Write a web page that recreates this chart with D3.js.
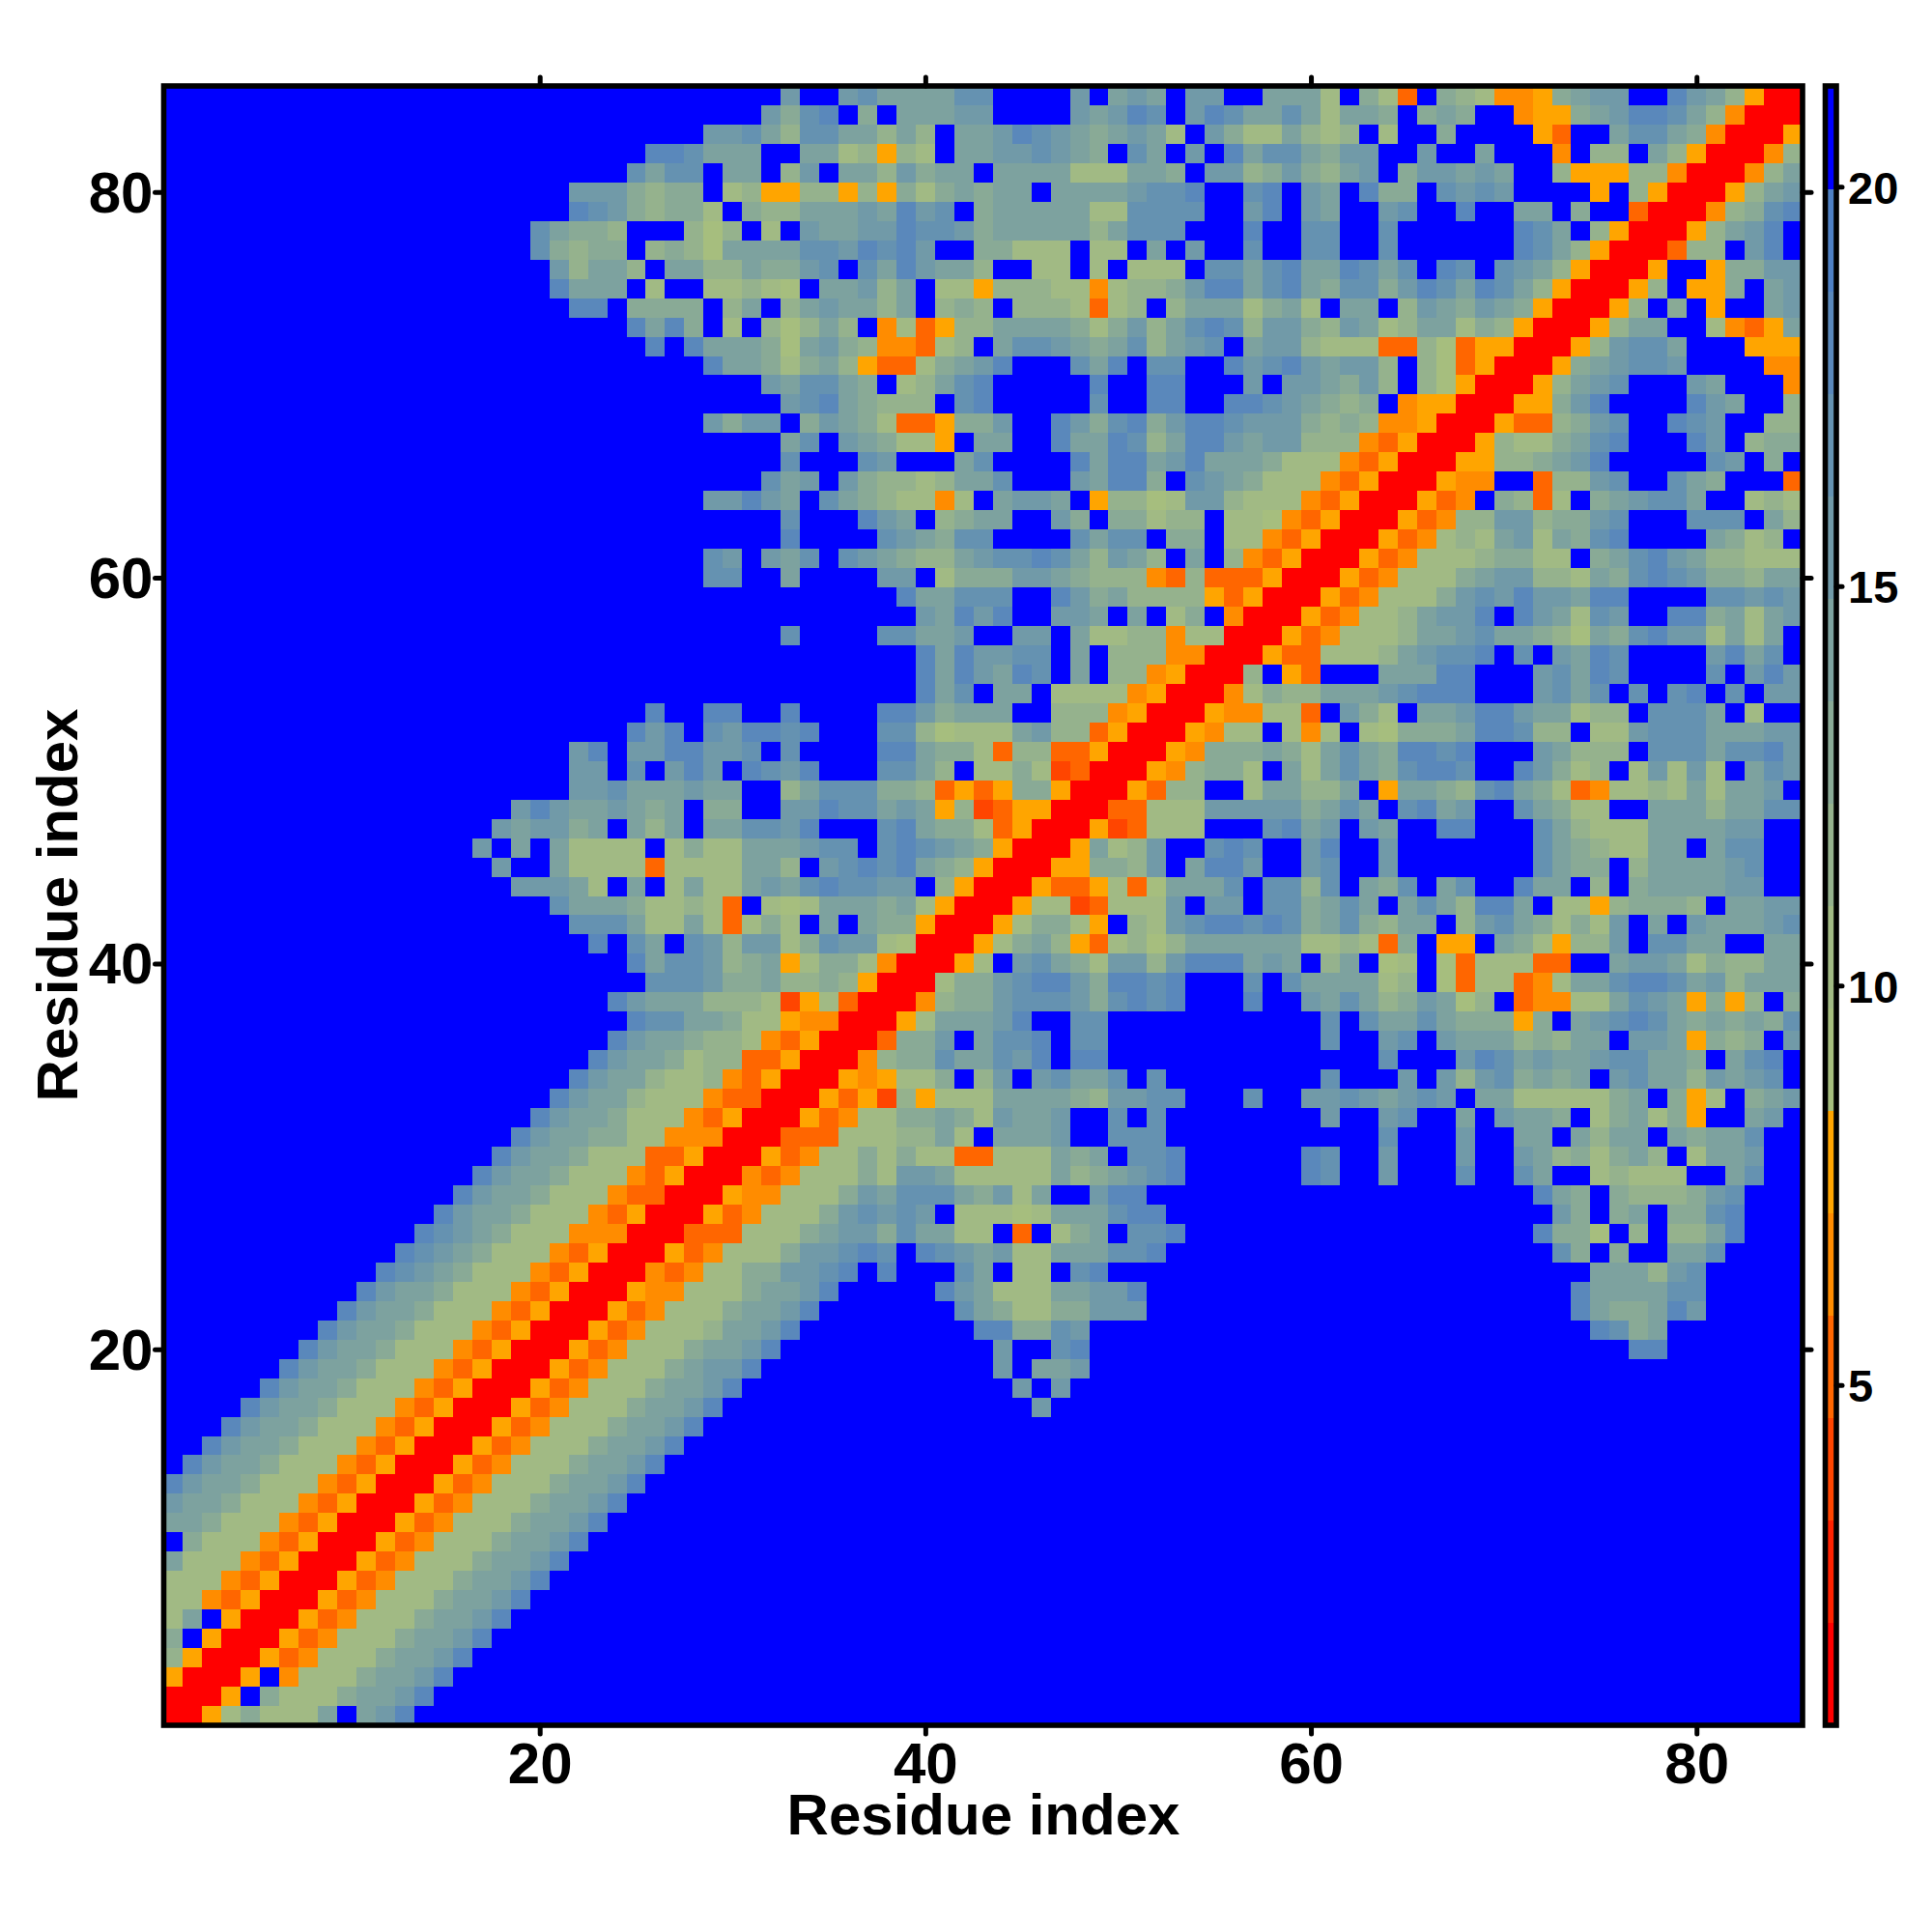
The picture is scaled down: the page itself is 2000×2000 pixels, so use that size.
<!DOCTYPE html>
<html><head><meta charset="utf-8">
<script src="https://d3js.org/d3.v7.min.js"></script>
<style>html,body{margin:0;background:#fff}svg{display:block}text{font-family:"Liberation Sans",Arial,sans-serif;font-weight:700;fill:#000}</style>
</head><body><div id="c"></div>
<script>
// Distance classes, one string per row, top row (residue 85) first.
// number = that many out-of-range (blue) cells, "." = one such cell, letters = colour-bar band.
const matrixRows = [
"28|....f..fgeeeegg....f.efe.ff..|eeeb.dbo.dcbnnmdeff..hfecmrr",
"28|...fdgh.d.eeeff....fefhg.fhge|egebeed.ded..nmmdefhhgecnrrr",
"28|ffgecggeecec.eefhgfedefeb.fdb|becbc.b..d....mo..eggednrrrm",
"25hhg|eee..eebcmcb.eeffgfed.ge.f.he|ggedff..f..e...n.cc.ecmrrrnc",
"24gegg|.ee.cf.eecfdee.eeeebbbeed.ffc|dfdcef.dffefe..cmmmccnrrrnce",
"21fffdcdd|.bcmmccmcmdbdedee.eeeefggh..g|h.fe.hdd.gfgf....m.cmrrrmcef",
"21hgfdcdd|b.dcceeefehfg.deeeeebbgggg..f|h.fe..fg..h..ee.d..orrrncdgh",
"19geddc...c|ac.b.feeffhggfdeeeeeceggg...h|..gg..g......hge.cmrrrmcefh.",
"19gdcdd.cdc|aeeeeggfhghf..ddbbb.bb.e.f..g|..gg..g......hgecmrrrocc.fh.",
"20fceec.ee|cceddfg.gehfeec..bb.b.bbb.gge|gheehgeg.hg.gfecmrrrm..mddff",
"20heee.b..|bbcba.eefce.bbmcccbbnbccdfhhe|ghedggdfhgehgecmrrrmc.mmd.ef",
"21hh.dddd|.ce.cefeece.cdc.cccbobc.ceeeb|deb.ee.cfedfedmrrrmc.d.m..ef",
"24hehd|.b.cacec.nbomcceeeedbdfceghgc|ffdcfebceebdcmrrrmcee..bnome",
"25h.h|eeedaefdcnnobc.eggfedegcefg.e|ffcbbboocaommrrrmcfgge...mmm",
"28|heedbdecmoobdefh...geh.gg..hf|ghfeffc.caomrrrmdefggf....nn",
"28|...fegged.bcegh.....h..hh...f|.ffedfc.camrrrmcefg...fe...n",
"28|....fghedccc.gh.....g..hh..hh|gfedcd.nmmrrrmmdfh....hfe..c",
"28|fdff.dfedboomddf..hfdghdfhhgf|ffdcdcnnmrrrmoocdfg..hgf..cc",
"28|....eg.fedbbm.ee..heehgcehhfe|ffcccnomrrrmcbbdegh...hf.cdd",
"28|....g...gf...eg....hehhefheee|dbbbnomrrrmmccdefh.....gf.d.",
"28|...gef.fdccbceeg...fehhd.gfed|bbbnomrrrmnn..occfg..ged...o",
"28|ffhfe.gedcbbnb.effe.mccabffcb|bbnomrrrmon.dcob.defgge..bcb",
"28|....g...hfe.cdee..fd.ddbcc.bb|anomrrrmonccffcddfg...ggg.ec",
"28|....h....gfedgg....gegg.dd.bb|nomrrrmonbcbefbedgh....edbc.",
"28|gf.feg.gfedccefgghgecfec.e.cn|omrrrmonbbbcddbb.deghfeccbbb",
"28|gg..e....ff.bdddffedcccnocooo|mrrrmonbbbdeffccbedghgfddcee",
"28|..........heeggg..hfdeccccmom|rrrmonbbbdfgfhffehh....ggfgf",
"28|...........fehfh..ffe.e.bd.nr|rrmonbbceffh.hfebgf..hhdebef",
"28|....g....ggeef..ff.ebbccnbbrr|rmonbbbceefgeedcaedghffbebe.",
"28|...........hehffgg.e.cccnnrrr|moobbbcefggh.g.fehg....fheg.",
"28|...........hehfehg.e.ccnmrrrc|.mo...eeehh...fgehg....g.fhf",
"28|...........heg.ee.bbbbnmrrrnb|dcceeefghhh...fgeg.g.gh.g.ff",
"25h..|hh..h....hhfdeee..cccnmrrrmnn|bbo.fdb.eefhhfeebcc.ggge.b..",
"24hfh.|gfhhgh...ggcabbbefccomrrrmnbb|.bnb.badddehhgcc.bbfgggeeeff",
"21fh.ffhh|ffg.g....hheddboccoomrrrmnddd|edbegedhhgh...feccc.gggegghf",
"21ff.g.fh|f.hgfh...ggec.bbdbporrrmncddb|.ebegedghhg..hfdbc.bfbfb.egf",
"21ffgeeef|ee..cegggddcomomddmrrrmocc..b|eecce.meedcghedbonbbcbebeef.",
"18fhfeefede.|dd..ffhggefemcpommrrroobbbfff|ffdege.ghef..gedbb..eeeceegg",
"17feffde.ece.|eeggfh...gheddbomrrrmpobbb...|ghef.fe..hh...gecbbbeeeeff..",
"16f.e.ebbbb.bd|bbeeefgg.ghgfedmrrrmebcf..ghg|..fh..f.......gedcbbee.egg..",
"17f..ebbbbobb|bbeec.fghghedcmrrrmmddcf.ehhf|..fg..f.......gedd.ceeeefg..",
"18fffeb.e.be|bbefeghggff.cmrrrmoomboaeeeg.|ggcg.edg.eg..hee.c.deeeeff..",
"20geeedbbc|bo.babeeedebmrrrmbbpobbbf.ff.|ggdege.egechhe.bbmcdddc.eeff",
"21gggebbe|bobdb.e.eddmrrrmbddbm.cbfghhg|hgdegdcee.cfgedbdbf.e.feeefg",
"22h.ge.g|fcffbdgffbarrrmbdecmobcaceeee|eebbcbod.mm.edbmccf.ggee..ee",
"24hegg|fcdembddbnrrrmb.fgedbffcfhhhe|fe.ce.ab.aobbboo..effebdccee",
"25ggg|fddeccdcmrrrbddfghhfdhhgh...g|.geeeebc.aobbonbeeghhgefceee",
"23hfeee|cccbpmborrrncddfgggfdghgh...h|..fegecdfeac.onnbbegfemdmc.d",
"24hgge|edbbmnnrrrmbeeefh..gg........|...g.geegedddmd.efghgedededg",
"23hfeed|ccbnomrrroddf.eggh.gg........|...g..fg.feeecdcee.ffemdcd.f",
"22hfeedb|ccoomrrrncddgeegfh.hh........|......g...fhgefeefggeed.egh.",
"21hfeecbb|cnomrrrmnmbbd.cf.fgeeg.g.....|...g...f.fcfgdede.fgeecfefg.",
"20hfeecbbb|noorrrmompcmbbbeeeedcffgg...g|..ffgfefgf.eebbbbbde.dmb.def",
"19hfeedbbbn|omrrrmonbbddedbfeef..g.g.....|...f..fg..e.feed.bdebdm..ef.",
"18hfeeddbbnn|nrrrooobbbcceb.eeef..ggg.....|......g...f..ee.ecee.edeeg..",
"17hfeedbbboom|rrrmonbbdbdbboobbbede.ggh....|..hg..f...f..fecdbdec.beef..",
"16hfeedbbbnomr|rrnonbbbdbffebbbbbecdefgh....|..hg..f...g..ge..bcbbb..eg..",
"15hfeedbbbnoorr|rmnnbbbdfegggedfbe..fhh......|14hed.dcccdfg...",
"14hfeedbbbnomrrr|monbbbdfgfgf.bbbabeeeghh.....|15fd.de.ddgh...",
"13hgfedbbbnnnrrro|oobbbdeffdgeebb.o.bde.ggh....|14hdda.c.cceh...",
"12hgfedbbbnomrrrmo|nbbbdffghg.hgfefbbeeeggh.....|15gd.d..eeg....",
"11hgfedbbbnomrrrnon|bbddffgh.h...ge.bb.gh........|17eeecfg.....",
"10hfeedbbbnomrrrmnnb|bbdeefh.....hfebbbeeffh......|16heeeegg.....",
"9hfeedbbbnomrrrmonbb|bdeefh.......gedbbddfff......|16heddehf.....",
"8hfeedbbbnomrrrmonbbb|ceefh.........hhddgf.........|17hgde.......",
"7hfeedbbbnomrrrmonbbbd|eefh...........f..gh.........|19hh.......",
"6hfeedbbbnomrrrmonbbbde|ffh............f.eef.........|28",
"5hfeedbbbnomrrrmonbbbdee|fh14f.f10|28",
"4hfeedbbbnomrrrmonbbbdeef|h16f11|28",
"3hfeedbbbnomrrrmonbbbdeefh|29|28",
"2hfeedbbbnomrrrmonbbbdeefh.|29|28",
".hfeedbbbnomrrrmonbbbdeefh..|29|28",
"hfeedbbbnomrrrmonbbbdeefh...|29|28",
"feedbbbnomrrrmonbbbdeefh4|29|28",
"eedbbbnomrrrmonbbbdeefh5|29|28",
".dbbbnomrrrmonbbbdeefh6|29|28",
"ebbbnomrrrmonbbbdeefh7|29|28",
"bbbnomrrrmonbbbdeefh8|29|28",
"bbnomrrrmonbbbdeefh9|29|28",
"be.mrrrmonbbbdeefh10|29|28",
"d.mrrrmonbbbdeefh11|29|28",
"cmrrrmonbbbdeefh12|29|28",
"mrrrm.nbbbdeefh13|29|28",
"rrrm.dbbbdeefh14|29|28",
"rrmbdbbbe.efh15|29|28"
];
const bandLetters = ["r","q","p","o","n","m","a","b","c","d","e","f","g","h","i","."];
const bandColors = ["#ff0000","#ff2200","#ff4500","#ff6600","#ff8c00","#ffa500",
  "#a6be7e","#a1ba84","#95b28d","#89aa96","#7da29f","#719aa8","#6592b1","#5a88bb","#4e80c4","#0000ff"];
const valueDomain = [0.74, 21.26];
const axisTicks = [20, 40, 60, 80];
const barTicks = [5, 10, 15, 20];
const axisTitle = "Residue index";

const step = (valueDomain[1] - valueDomain[0]) / bandLetters.length;
const bandValue = i => valueDomain[0] + (i + 0.5) * step;
const decoded = matrixRows.map(s => s.split("|").map(p => p.replace(/\d+/g, n => ".".repeat(+n))).join(""));
decoded.forEach((s, i) => { if (s.length !== 85) throw new Error("row " + (85 - i) + " has length " + s.length); });
const cells = decoded.flatMap((s, i) => Array.from(s, (ch, j) => ({col: j + 1, row: 85 - i, value: bandValue(bandLetters.indexOf(ch))})));

const L = 169.5, R = 1866, T = 89, B = 1786;
const svg = d3.select("#c").append("svg").attr("width", 2000).attr("height", 2000);
const x = d3.scaleLinear().domain([0.5, 85.5]).range([L, R]);
const y = d3.scaleLinear().domain([0.5, 85.5]).range([B, T]);
const color = d3.scaleQuantize().domain(valueDomain).range(bandColors);

svg.append("g").attr("shape-rendering", "crispEdges").selectAll("rect").data(cells).join("rect")
  .attr("x", d => x(d.col - 0.5)).attr("y", d => y(d.row + 0.5))
  .attr("width", d => x(d.col + 0.5) - x(d.col - 0.5) + 0.5)
  .attr("height", d => y(d.row - 0.5) - y(d.row + 0.5) + 0.5)
  .attr("fill", d => color(d.value));

function styleAxis(g) {
  g.select(".domain").remove();
  g.selectAll("line").attr("stroke", "#000").attr("stroke-width", 5).attr("stroke-linecap", "round");
  g.selectAll("text").attr("font-family", '"Liberation Sans",Arial,sans-serif').attr("font-weight", 700).attr("fill", "#000");
}
const TK = 9;
svg.append("g").attr("transform", `translate(0,${B})`).call(d3.axisBottom(x).tickValues(axisTicks).tickSize(TK).tickPadding(8))
  .call(styleAxis).call(g => g.selectAll("text").attr("font-size", 60).attr("y", null).attr("dy", null).attr("transform", "translate(0,60)"));
svg.append("g").attr("transform", `translate(${L},0)`).call(d3.axisLeft(y).tickValues(axisTicks).tickSize(TK).tickPadding(2))
  .call(styleAxis).call(g => g.selectAll("text").attr("font-size", 60).attr("dy", "0.34em"));
svg.append("g").attr("transform", `translate(0,${T})`).call(d3.axisTop(x).tickValues(axisTicks).tickSize(TK).tickFormat("")).call(styleAxis);
svg.append("g").attr("transform", `translate(${R},0)`).call(d3.axisRight(y).tickValues(axisTicks).tickSize(TK).tickFormat("")).call(styleAxis);
svg.append("rect").attr("x", L).attr("y", T).attr("width", R - L).attr("height", B - T)
  .attr("fill", "none").attr("stroke", "#000").attr("stroke-width", 5.6);

svg.append("text").attr("x", 1018).attr("y", 1899).attr("text-anchor", "middle").attr("font-size", 60).text(axisTitle);
svg.append("text").attr("transform", "translate(80,937) rotate(-90)").attr("text-anchor", "middle").attr("font-size", 60).text(axisTitle);

// colour bar
const BL = 1889.5, BR = 1901;
const by = d3.scaleLinear().domain(valueDomain).range([B, T]);
svg.append("g").attr("shape-rendering", "crispEdges").selectAll("rect").data(bandColors).join("rect")
  .attr("x", BL).attr("width", BR - BL)
  .attr("y", (c, i) => by(valueDomain[0] + (i + 1) * step))
  .attr("height", (c, i) => by(valueDomain[0] + i * step) - by(valueDomain[0] + (i + 1) * step) + 0.5)
  .attr("fill", c => c);
svg.append("rect").attr("x", BL).attr("y", T).attr("width", BR - BL).attr("height", B - T)
  .attr("fill", "none").attr("stroke", "#000").attr("stroke-width", 5.6);
svg.append("g").attr("transform", `translate(${BR},0)`).call(d3.axisRight(by).tickValues(barTicks).tickSize(6).tickPadding(6))
  .call(styleAxis).call(g => g.selectAll("text").attr("font-size", 47).attr("dy", "0.36em"));
</script></body></html>
